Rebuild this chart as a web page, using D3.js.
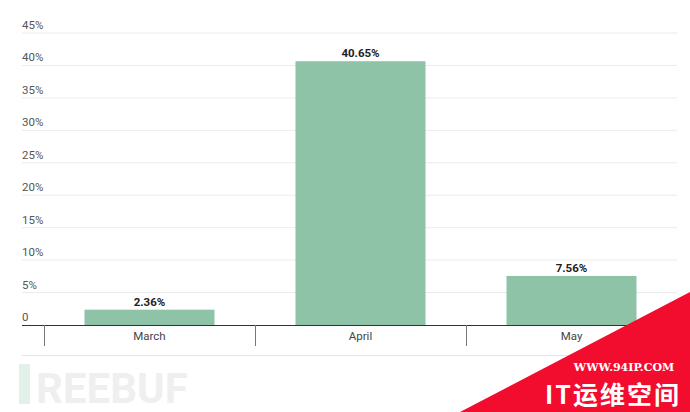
<!DOCTYPE html>
<html><head><meta charset="utf-8">
<script src="https://cdn.jsdelivr.net/npm/d3@7"></script>
<style>body{margin:0;background:#fff}svg{display:block;font-family:Roboto,"Noto Sans",sans-serif}</style>
</head><body>
<script>
const categories = ["March", "April", "May"];
const values = [2.36, 40.65, 7.56];
const yTicks = [0, 5, 10, 15, 20, 25, 30, 35, 40, 45];

const W = 690, H = 412;
const svg = d3.select("body").append("svg").attr("width", W).attr("height", H);
const left = 22, plotL = 44, right = 677, y0 = 325, yTop = 33;

const x = d3.scaleBand().domain(categories).range([plotL, right]).paddingInner(0).paddingOuter(0);
const y = d3.scaleLinear().domain([0, 45]).range([y0, yTop]);
const barW = 130;

// grid + y labels
const g = svg.append("g");
g.selectAll("line.grid").data(yTicks.filter(d => d > 0)).join("line")
  .attr("x1", left).attr("x2", right).attr("y1", d => y(d)).attr("y2", d => y(d))
  .attr("stroke", "#ebebeb").attr("stroke-width", 1);
g.selectAll("text.yl").data(yTicks).join("text")
  .attr("x", left).attr("y", d => y(d) - 4)
  .attr("font-size", 11.5).attr("fill", "#555")
  .text(d => d === 0 ? "0" : d + "%");

// bars
svg.selectAll("rect.bar").data(values).join("rect")
  .attr("x", (d, i) => x(categories[i]) + (x.bandwidth() - barW) / 2)
  .attr("width", barW)
  .attr("y", d => y(d)).attr("height", d => y0 - y(d))
  .attr("fill", "#8ec3a7");

svg.selectAll("text.val").data(values).join("text")
  .attr("x", (d, i) => x(categories[i]) + x.bandwidth() / 2)
  .attr("y", d => y(d) - 4)
  .attr("text-anchor", "middle").attr("font-size", 11.5).attr("font-weight", "bold").attr("fill", "#222")
  .text(d => d.toFixed(2) + "%");

// axis
svg.append("line").attr("x1", left).attr("x2", right).attr("y1", y0 + 0.5).attr("y2", y0 + 0.5)
  .attr("stroke", "#333").attr("stroke-width", 1.2);
const seps = categories.map(c => x(c)).concat([x(categories[categories.length - 1]) + x.bandwidth()]);
svg.selectAll("line.sep").data(seps).join("line")
  .attr("x1", d => Math.round(d) + 0.5).attr("x2", d => Math.round(d) + 0.5)
  .attr("y1", y0).attr("y2", 346).attr("stroke", "#777").attr("stroke-width", 1);
svg.selectAll("text.cat").data(categories).join("text")
  .attr("x", d => x(d) + x.bandwidth() / 2).attr("y", 340)
  .attr("text-anchor", "middle").attr("font-size", 11.5).attr("fill", "#444")
  .text(d => d);
svg.append("line").attr("x1", left).attr("x2", right).attr("y1", 355.5).attr("y2", 355.5)
  .attr("stroke", "#e6e6e6");

// faint logo
svg.append("rect").attr("x", 19).attr("y", 364).attr("width", 11).attr("height", 40).attr("fill", "#e3efe9");
svg.append("text").attr("x", 36).attr("y", 403).attr("font-size", 42).attr("font-weight", "bold")
  .attr("fill", "#efefef").text("REEBUF");

// red corner
svg.append("path").attr("d", `M${W},292 L${W},${H} L460,${H} Z`).attr("fill", "#f20d2e");
svg.append("text").attr("x", 624).attr("y", 371).attr("text-anchor", "middle")
  .attr("font-family", "'DejaVu Serif','Liberation Serif',serif").attr("font-weight", "bold")
  .attr("font-size", 11).attr("fill", "#fff").text("WWW.94IP.COM");
svg.append("text").attr("x", 545).attr("y", 404)
  .attr("font-family", "'Noto Sans CJK SC',sans-serif").attr("font-weight", "bold")
  .attr("font-size", 25).attr("letter-spacing", 2).attr("fill", "#fff").text("IT运维空间");
</script>
</body></html>
